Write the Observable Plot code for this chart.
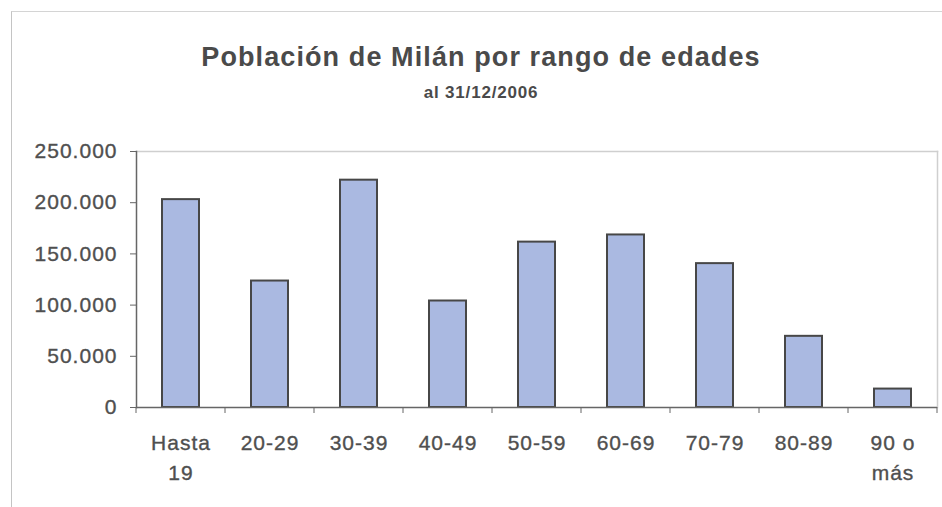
<!DOCTYPE html>
<html>
<head>
<meta charset="utf-8">
<script src="https://cdn.jsdelivr.net/npm/d3@7"></script>
<script src="https://cdn.jsdelivr.net/npm/@observablehq/plot@0.6"></script>
<style>
  html, body { margin: 0; padding: 0; background: #fff; }
  #wrap { position: relative; width: 942px; height: 507px; overflow: hidden; font-family: "Liberation Sans", Arial, sans-serif; }
  #frame { position: absolute; left: 11px; top: 11px; width: 1000px; height: 600px; border-left: 1.5px solid #c4c4c4; border-top: 1.5px solid #d4d4d4; }
  #title { position: absolute; left: 0; width: 962px; top: 44px; text-align: center; font-weight: bold; font-size: 27px; letter-spacing: 1.1px; color: #4a4a4a; line-height: 1; }
  #subtitle { position: absolute; left: 0; width: 962px; top: 84px; text-align: center; font-weight: bold; font-size: 17px; letter-spacing: 0.8px; color: #4a4a4a; line-height: 1; }
  #chart { position: absolute; left: 0; top: 120px; }
  #chart svg text { letter-spacing: 1px; stroke: #4f4f4f; stroke-width: 0.35px; }
</style>
</head>
<body>
<div id="wrap">
  <div id="frame"></div>
  <div id="title">Población de Milán por rango de edades</div>
  <div id="subtitle">al 31/12/2006</div>
  <div id="chart"></div>
</div>
<script>
const categories = ["Hasta\n19", "20-29", "30-39", "40-49", "50-59", "60-69", "70-79", "80-89", "90 o\nmás"];
const population = [203000, 123500, 222000, 104000, 161500, 168500, 140500, 69500, 18000];
const yTicks = [0, 50000, 100000, 150000, 200000, 250000];

const data = categories.map((c, i) => ({ cat: c, value: population[i] }));
const esFormat = d3.formatLocale({ decimal: ",", thousands: ".", grouping: [3], currency: ["", "€"] }).format(",d");

const textColor = "#4f4f4f";
const axisColor = "#666666";

const width = 942, height = 387;
const marginLeft = 136, marginRight = 5, marginTop = 31, marginBottom = 100;
const stepSize = (width - marginLeft - marginRight) / categories.length;

// Category boundary tick marks along the x axis (positions from the band scale)
function categoryTicks() {
  return (index, scales) => {
    const g = d3.create("svg:g");
    const bw = scales.x.bandwidth();
    const y0 = scales.y(0);
    const xs = categories.map(c => scales.x(c) + bw / 2 - stepSize / 2);
    xs.push(scales.x(categories[categories.length - 1]) + bw / 2 + stepSize / 2);
    for (const x of xs) {
      g.append("line").attr("x1", x).attr("x2", x).attr("y1", y0).attr("y2", y0 + 6)
        .attr("stroke", axisColor).attr("stroke-width", 1);
    }
    return g.node();
  };
}

const chart = Plot.plot({
  width, height, marginLeft, marginRight, marginTop, marginBottom,
  style: { fontFamily: "'Liberation Sans', Arial, sans-serif", background: "transparent", color: textColor, overflow: "visible" },
  x: { domain: categories, paddingInner: 0.58, paddingOuter: 0.29, label: null },
  y: { domain: [0, 250000], label: null },
  marks: [
    Plot.frame({ anchor: "top", stroke: "#cfcfcf", strokeWidth: 1.5 }),
    Plot.frame({ anchor: "right", stroke: "#cfcfcf", strokeWidth: 1.5 }),
    Plot.barY(data, { x: "cat", y: "value", fill: "#aab9e1", stroke: "#474747", strokeWidth: 2 }),
    Plot.axisY({ ticks: yTicks, tickFormat: esFormat, tickSize: 6, tickPadding: 13, fontSize: 21, stroke: axisColor, fill: textColor, label: null }),
    Plot.axisX({ tickSize: 0, tickPadding: 22, fontSize: 21, lineHeight: 1.4, fill: textColor, label: null }),
    Plot.frame({ anchor: "left", stroke: axisColor, strokeWidth: 1.5 }),
    Plot.ruleY([0], { stroke: axisColor, strokeWidth: 1.5 }),
    categoryTicks()
  ]
});
document.getElementById("chart").appendChild(chart);
</script>
</body>
</html>
